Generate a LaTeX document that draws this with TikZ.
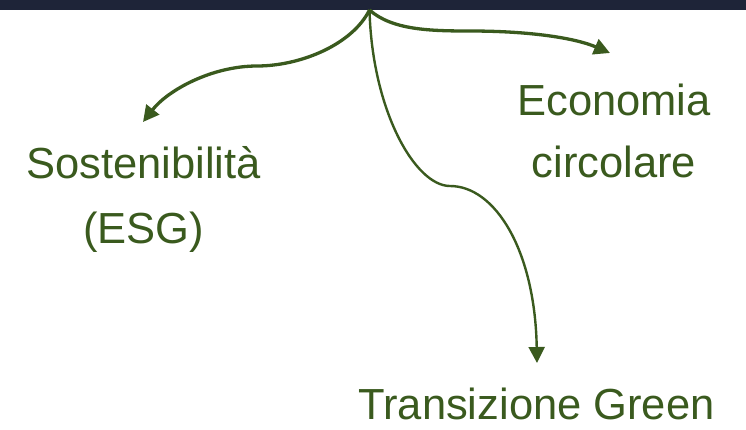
\documentclass[tikz,border=0pt]{standalone}
\usepackage{fontspec}
\setmainfont{Liberation Sans}
\usetikzlibrary{arrows.meta}
\definecolor{dkgreen}{HTML}{3A5A1E}
\definecolor{bandnavy}{HTML}{1E2438}
\tikzset{
  label/.style={text=dkgreen, inner sep=0pt, align=center, font=\fontsize{43.5}{64}\selectfont},
  branch/.style={draw=dkgreen, line width=3.3pt, -{Triangle[length=16pt,width=16pt]}},
  thinbranch/.style={branch, line width=2.4pt}
}
\begin{document}
\begin{tikzpicture}[x=1pt,y=-1pt]
\useasboundingbox (0,0) rectangle (746,429);
\fill[bandnavy] (0,0) rectangle (746,10);
\coordinate (o) at (369.5,10);
\coordinate (tl) at (143,122);
\coordinate (tr) at (610,53);
\coordinate (tm) at (537,363);
\node[label, anchor=base, font=\fontsize{43.5}{65}\selectfont] (sost) at (143.5,243) {Sostenibilità\\(ESG)};
\node[label, anchor=base, font=\fontsize{43.5}{62}\selectfont] (eco) at (614,177) {Economia\\circolare};
\node[label, anchor=base] (green) at (536.5,419) {Transizione Green};
\draw[branch] (o) .. controls (352,45) and (300,66) .. (257,66)
  .. controls (212,66) and (168,90) .. (tl);
\draw[branch] (o) .. controls (392,30) and (430,31) .. (470,31)
  .. controls (530,31) and (575,38) .. (tr);
\draw[thinbranch] (o) .. controls (372,110) and (415,186) .. (450,186)
  .. controls (495,186) and (535,250) .. (tm);
\end{tikzpicture}
\end{document}
